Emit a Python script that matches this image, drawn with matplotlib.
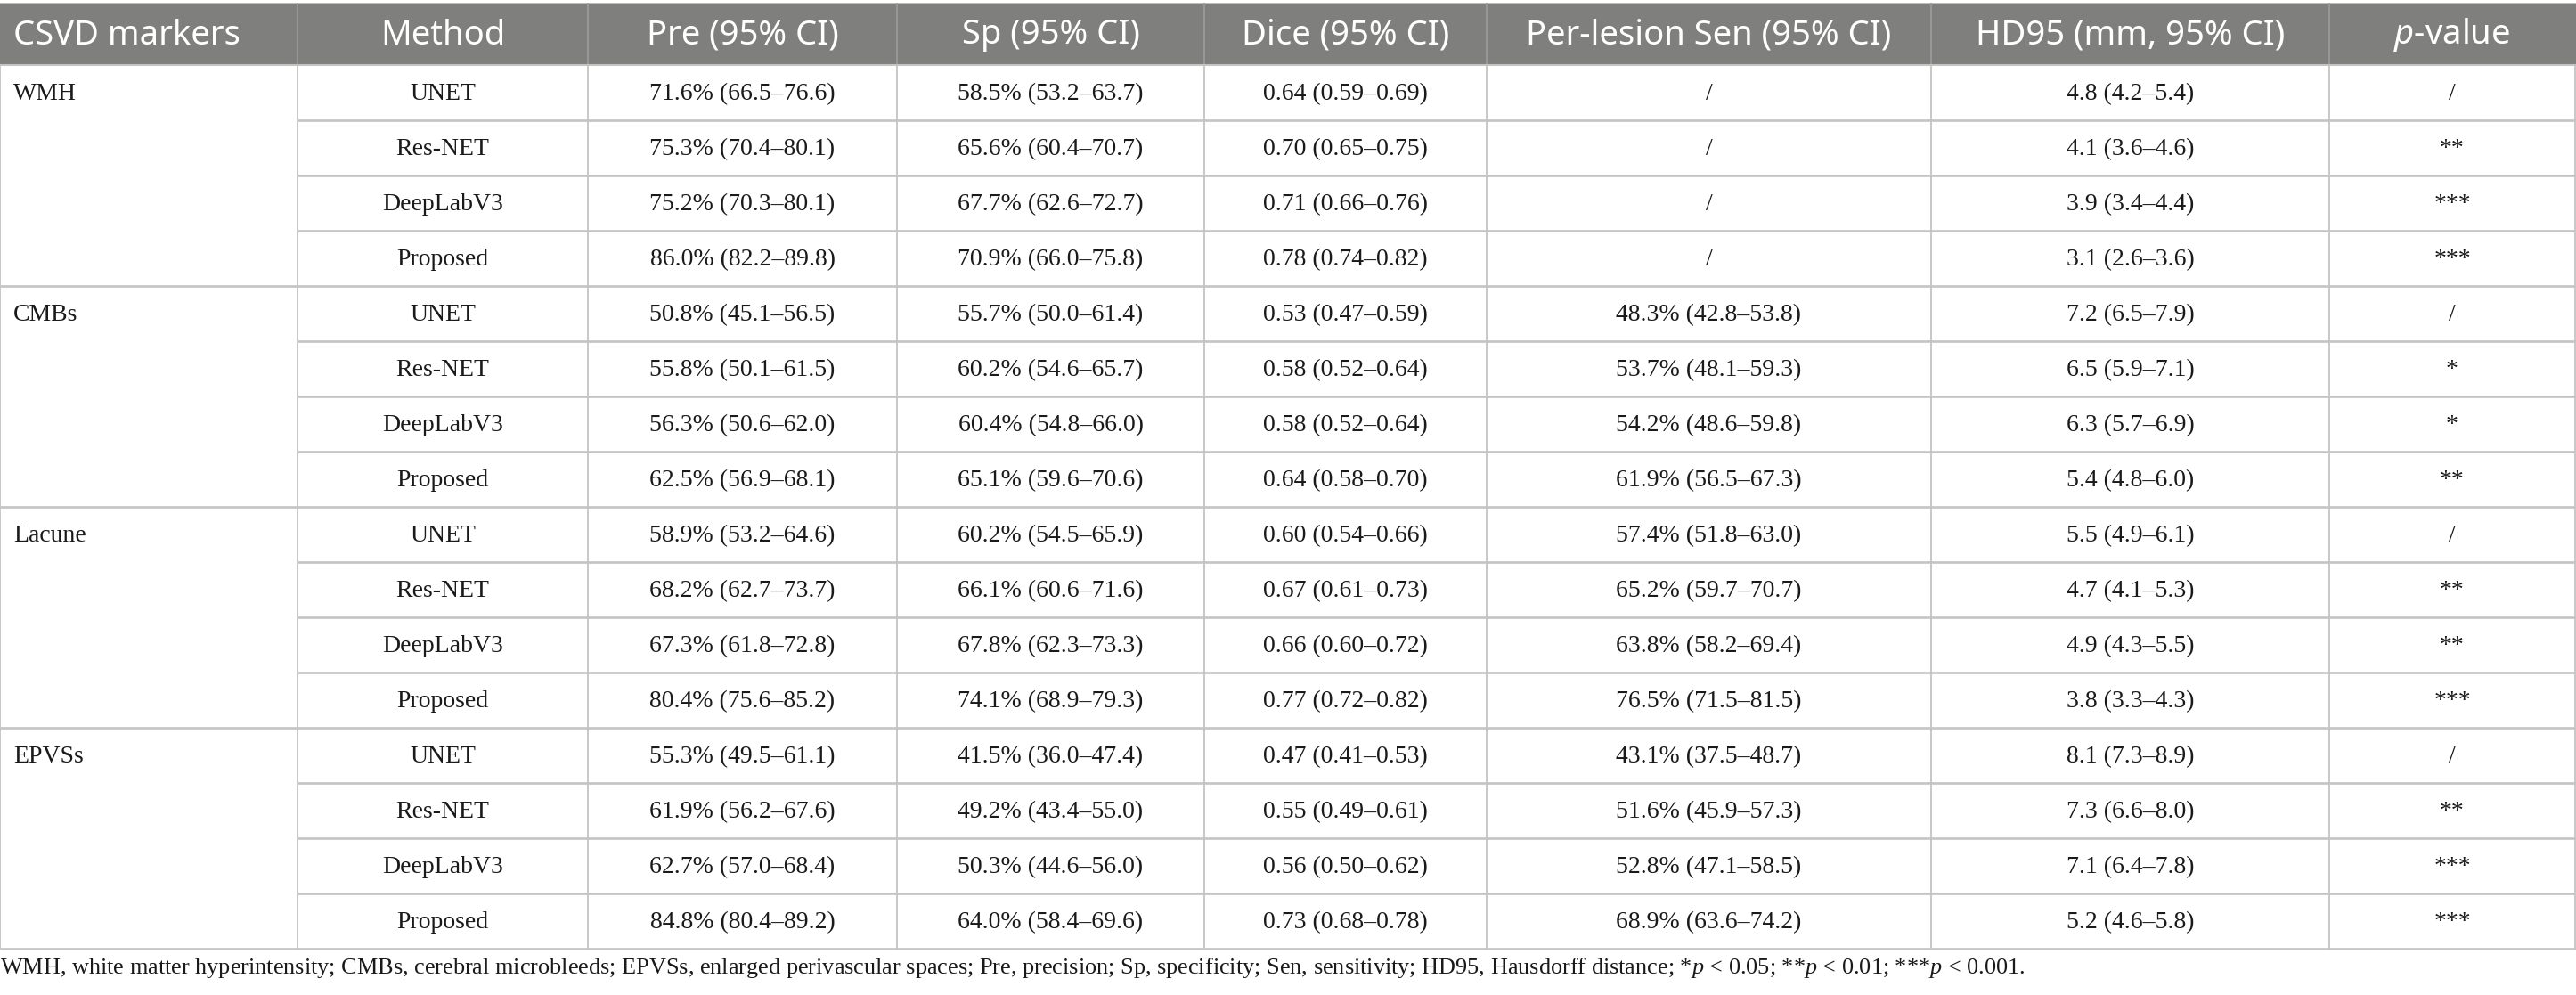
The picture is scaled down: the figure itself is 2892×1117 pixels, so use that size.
import matplotlib
matplotlib.use("Agg")
import matplotlib.pyplot as plt
from matplotlib.patches import Rectangle

# Table content
headers = ["CSVD markers", "Method", "Pre (95% CI)", "Sp (95% CI)", "Dice (95% CI)",
           "Per-lesion Sen (95% CI)", "HD95 (mm, 95% CI)", "$\\mathsf{p}$-value"]
markers = ["WMH", "CMBs", "Lacune", "EPVSs"]
methods = ["UNET", "Res-NET", "DeepLabV3", "Proposed"]

pre = ["71.6% (66.5–76.6)", "75.3% (70.4–80.1)", "75.2% (70.3–80.1)", "86.0% (82.2–89.8)",
       "50.8% (45.1–56.5)", "55.8% (50.1–61.5)", "56.3% (50.6–62.0)", "62.5% (56.9–68.1)",
       "58.9% (53.2–64.6)", "68.2% (62.7–73.7)", "67.3% (61.8–72.8)", "80.4% (75.6–85.2)",
       "55.3% (49.5–61.1)", "61.9% (56.2–67.6)", "62.7% (57.0–68.4)", "84.8% (80.4–89.2)"]
sp = ["58.5% (53.2–63.7)", "65.6% (60.4–70.7)", "67.7% (62.6–72.7)", "70.9% (66.0–75.8)",
      "55.7% (50.0–61.4)", "60.2% (54.6–65.7)", "60.4% (54.8–66.0)", "65.1% (59.6–70.6)",
      "60.2% (54.5–65.9)", "66.1% (60.6–71.6)", "67.8% (62.3–73.3)", "74.1% (68.9–79.3)",
      "41.5% (36.0–47.4)", "49.2% (43.4–55.0)", "50.3% (44.6–56.0)", "64.0% (58.4–69.6)"]
dice = ["0.64 (0.59–0.69)", "0.70 (0.65–0.75)", "0.71 (0.66–0.76)", "0.78 (0.74–0.82)",
        "0.53 (0.47–0.59)", "0.58 (0.52–0.64)", "0.58 (0.52–0.64)", "0.64 (0.58–0.70)",
        "0.60 (0.54–0.66)", "0.67 (0.61–0.73)", "0.66 (0.60–0.72)", "0.77 (0.72–0.82)",
        "0.47 (0.41–0.53)", "0.55 (0.49–0.61)", "0.56 (0.50–0.62)", "0.73 (0.68–0.78)"]
sen = ["/", "/", "/", "/",
       "48.3% (42.8–53.8)", "53.7% (48.1–59.3)", "54.2% (48.6–59.8)", "61.9% (56.5–67.3)",
       "57.4% (51.8–63.0)", "65.2% (59.7–70.7)", "63.8% (58.2–69.4)", "76.5% (71.5–81.5)",
       "43.1% (37.5–48.7)", "51.6% (45.9–57.3)", "52.8% (47.1–58.5)", "68.9% (63.6–74.2)"]
hd95 = ["4.8 (4.2–5.4)", "4.1 (3.6–4.6)", "3.9 (3.4–4.4)", "3.1 (2.6–3.6)",
        "7.2 (6.5–7.9)", "6.5 (5.9–7.1)", "6.3 (5.7–6.9)", "5.4 (4.8–6.0)",
        "5.5 (4.9–6.1)", "4.7 (4.1–5.3)", "4.9 (4.3–5.5)", "3.8 (3.3–4.3)",
        "8.1 (7.3–8.9)", "7.3 (6.6–8.0)", "7.1 (6.4–7.8)", "5.2 (4.6–5.8)"]
pval = ["/", "**", "***", "***",
        "/", "*", "*", "**",
        "/", "**", "**", "***",
        "/", "**", "***", "***"]

footnote = ("WMH, white matter hyperintensity; CMBs, cerebral microbleeds; EPVSs, enlarged "
            "perivascular spaces; Pre, precision; Sp, specificity; Sen, sensitivity; HD95, "
            "Hausdorff distance; *$\\it{p}$ < 0.05; **$\\it{p}$ < 0.01; ***$\\it{p}$ < 0.001.")

# Layout (pixels)
W, H = 2892, 1117
col_edges = [0, 334, 660, 1007, 1352, 1669, 2168, 2615, 2891]
head_top, head_bot = 4, 73
row_h = 62
header_color = "#7f807e"
line_color = "#c4c4c4"
text_color = "#1a1a1a"

# italic p: serif in body/footnote, sans in header
plt.rcParams["mathtext.fontset"] = "custom"
plt.rcParams["mathtext.it"] = "Liberation Serif:italic"
plt.rcParams["mathtext.rm"] = "Liberation Serif"
plt.rcParams["mathtext.sf"] = "Noto Sans:italic"

fig = plt.figure(figsize=(W / 100, H / 100), dpi=100)
ax = fig.add_axes([0, 0, 1, 1])
ax.set_xlim(0, W)
ax.set_ylim(H, 0)
ax.set_axis_off()

# header band
ax.add_patch(Rectangle((0, head_top), W, head_bot - head_top, facecolor=header_color,
                       edgecolor="none"))
ax.plot([0, W], [head_top, head_top], color="#b0b0b0", lw=1.2)
for i, h in enumerate(headers):
    cx = (col_edges[i] + col_edges[i + 1]) / 2
    if i == 0:
        ax.text(15, (head_top + head_bot) / 2 + 1, h, ha="left", va="center",
                color="white", fontsize=27.5, family="Noto Sans")
    else:
        ax.text(cx, (head_top + head_bot) / 2 + 1, h, ha="center", va="center",
                color="white", fontsize=27.5, family="Noto Sans")
for x in col_edges[1:-1]:
    ax.plot([x, x], [head_top, head_bot], color="#9a9a9a", lw=1.3)

columns = [pre, sp, dice, sen, hd95, pval]
n_rows = len(pre)
body_top = head_bot
for r in range(n_rows):
    y0 = body_top + r * row_h
    yc = y0 + row_h / 2 + 2
    if r % 4 == 0:
        ax.text(15, yc, markers[r // 4], ha="left", va="center", fontsize=20,
                family="Liberation Serif", color=text_color)
    ax.text((col_edges[1] + col_edges[2]) / 2, yc, methods[r % 4], ha="center",
            va="center", fontsize=20, family="Liberation Serif", color=text_color)
    for j, col in enumerate(columns):
        cx = (col_edges[j + 2] + col_edges[j + 3]) / 2
        ax.text(cx, yc, col[r], ha="center", va="center", fontsize=20,
                family="Liberation Serif", color=text_color)
    # separators: full width between marker groups, from Method column otherwise
    yb = y0 + row_h
    x_start = 0 if (r + 1) % 4 == 0 else col_edges[1]
    ax.plot([x_start, W], [yb, yb], color=line_color, lw=1.9, solid_capstyle="butt")

body_bot = body_top + n_rows * row_h
for x in col_edges:
    ax.plot([x, x], [head_bot, body_bot], color=line_color, lw=1.3)
ax.plot([0, W], [head_bot, head_bot], color=line_color, lw=1.5)

ax.text(0, 1086, footnote, ha="left", va="center", fontsize=18.9,
        family="Liberation Serif", color=text_color)

fig.savefig("out.png", dpi=100, facecolor="white")
